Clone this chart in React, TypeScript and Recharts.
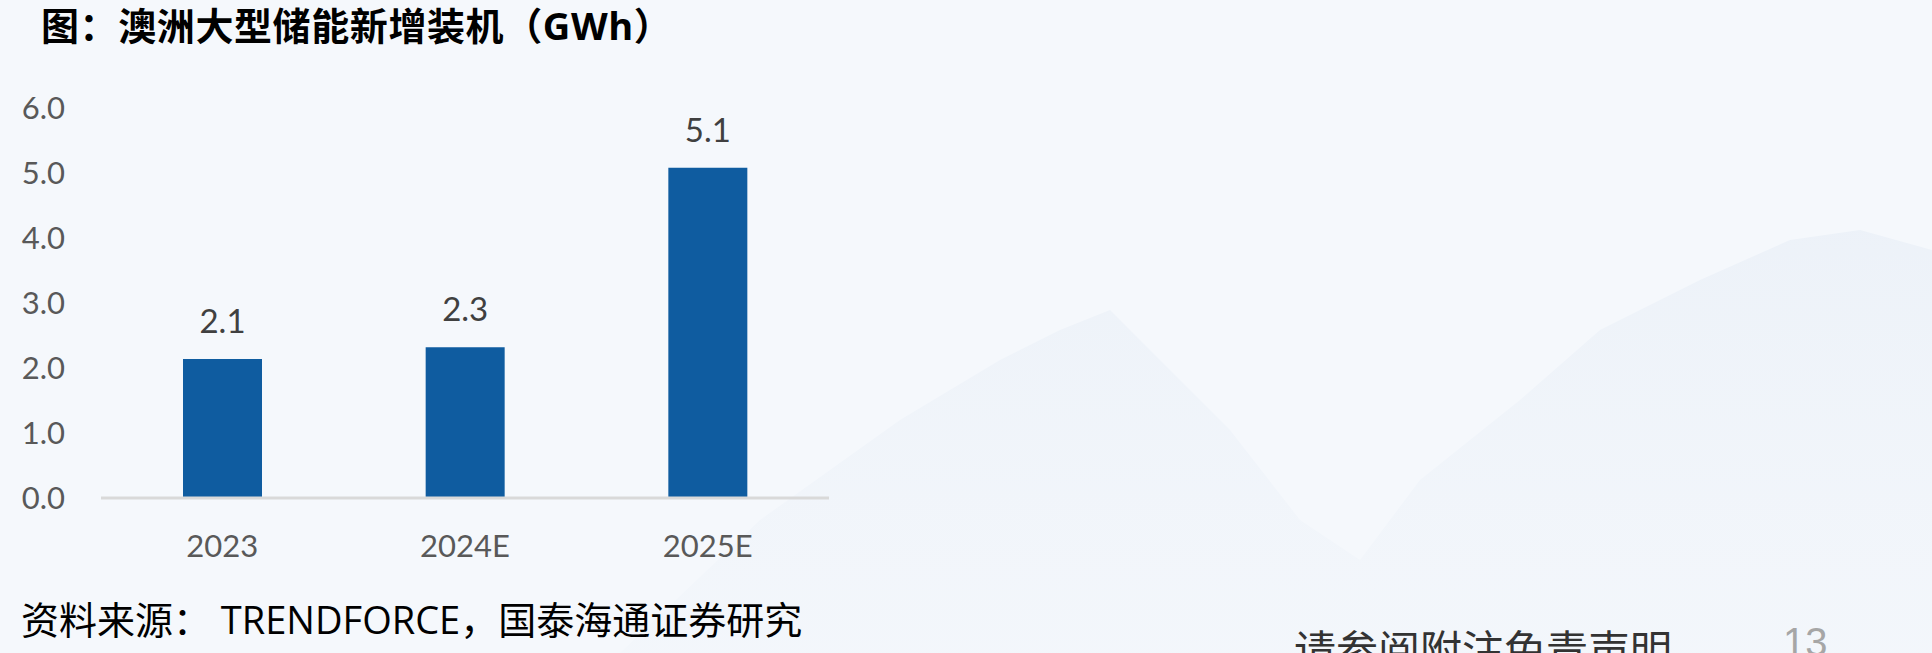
import { BarChart, Bar, XAxis, YAxis, LabelList } from "recharts";

const years = ["2023", "2024E", "2025E"];
const installs = [2.14, 2.32, 5.08];
const yTicks = [0, 1, 2, 3, 4, 5, 6];

const data = years.map((year, i) => ({ year, value: installs[i] }));

const latin = "Lato, 'Open Sans', 'Noto Sans CJK SC', sans-serif";
const cjk = "'Open Sans', 'Noto Sans CJK SC', sans-serif";

const App = () => {
  return (
    <div
      style={{
        position: "absolute",
        left: 0,
        top: 0,
        width: 1932,
        height: 653,
        overflow: "hidden",
        background: "#f5f8fc",
      }}
    >
      {/* faint mountain backdrop */}
      <svg
        width={1932}
        height={653}
        style={{ position: "absolute", left: 0, top: 0 }}
      >
        <defs>
          <linearGradient id="mt" x1="0" y1="0" x2="0" y2="1">
            <stop offset="0%" stopColor="#e9eff7" stopOpacity={0.7} />
            <stop offset="100%" stopColor="#eef3f9" stopOpacity={0.3} />
          </linearGradient>
        </defs>
        <path
          d="M620 653 L760 520 L900 420 L1000 360 L1060 330 L1110 310 L1150 350 L1230 430 L1300 520 L1360 560 L1420 480 L1520 400 L1600 330 L1700 280 L1790 240 L1860 230 L1932 250 L1932 653 Z"
          fill="url(#mt)"
        />
      </svg>

      <div
        style={{
          position: "absolute",
          left: 41,
          top: -4,
          fontFamily: cjk,
          fontWeight: 700,
          fontSize: 38,
          letterSpacing: 0.6,
          color: "#000",
          whiteSpace: "nowrap",
        }}
      >
        图：澳洲大型储能新增装机（GWh）
      </div>

      <div style={{ position: "absolute", left: 0, top: 0 }}>
        <BarChart
          width={900}
          height={600}
          data={data}
          margin={{ top: 108, right: 71, bottom: 0, left: 0 }}
        >
          <XAxis
            dataKey="year"
            height={102}
            axisLine={{ stroke: "#d9d9d9", strokeWidth: 3 }}
            tickLine={false}
            tickMargin={31}
            tick={{ fontSize: 31, fill: "#595959", fontFamily: latin }}
          />
          <YAxis
            width={101}
            domain={[0, 6]}
            ticks={yTicks}
            axisLine={false}
            tickLine={false}
            tickMargin={30}
            tickFormatter={(v: number) => v.toFixed(1)}
            tick={{ fontSize: 31, fill: "#595959", fontFamily: latin }}
          />
          <Bar
            dataKey="value"
            fill="#0f5ca0"
            barSize={79}
            isAnimationActive={false}
          >
            <LabelList
              dataKey="value"
              position="top"
              offset={26}
              formatter={(v: number) => v.toFixed(1)}
              style={{ fontSize: 33, fill: "#404040", fontFamily: latin }}
            />
          </Bar>
        </BarChart>
      </div>

      <div
        style={{
          position: "absolute",
          left: 21,
          top: 590,
          fontFamily: cjk,
          fontSize: 38,
          color: "#000",
          whiteSpace: "nowrap",
        }}
      >
        资料来源： TRENDFORCE，国泰海通证券研究
      </div>

      <div
        style={{
          position: "absolute",
          left: 1294,
          top: 617,
          fontFamily: "'Noto Sans CJK SC', sans-serif",
          fontSize: 42,
          color: "#333",
          whiteSpace: "nowrap",
        }}
      >
        请参阅附注免责声明
      </div>
      <div
        style={{
          position: "absolute",
          left: 1783,
          top: 620,
          fontFamily: "'Liberation Sans', sans-serif",
          fontSize: 40,
          color: "#a6a6a6",
        }}
      >
        13
      </div>
    </div>
  );
};

export default App;
